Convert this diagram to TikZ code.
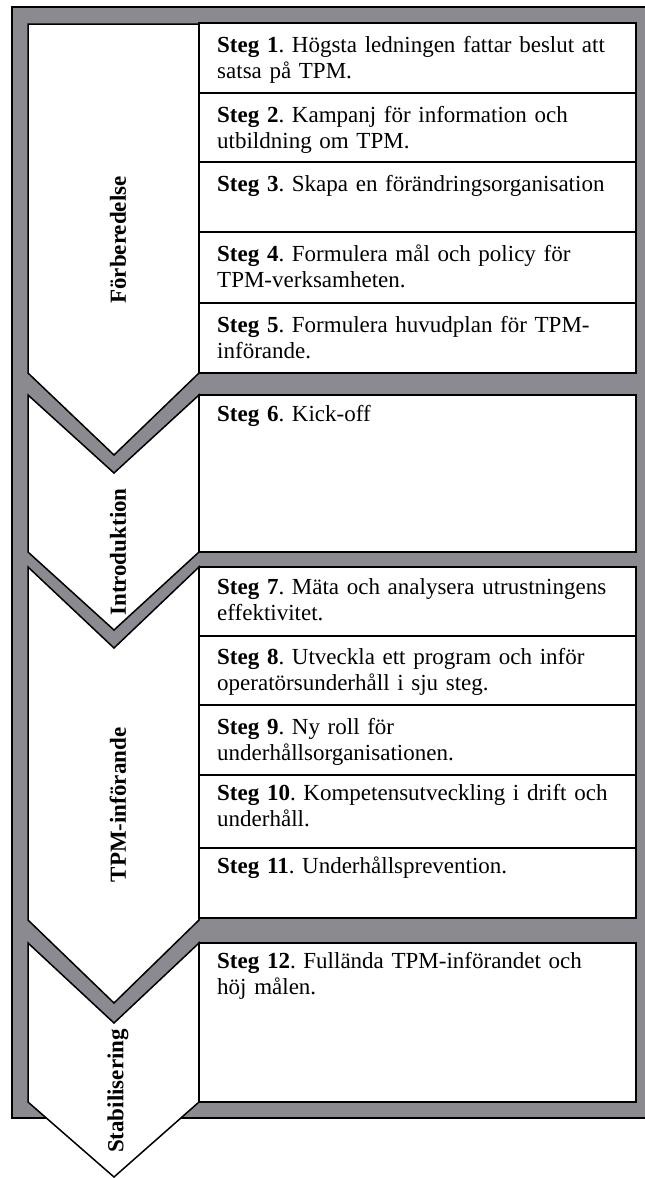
\documentclass[tikz,border=0pt]{standalone}
\usepackage{fontspec}
\setmainfont{Liberation Serif}
\frenchspacing
\definecolor{framegray}{RGB}{138,138,144}
\tikzset{
  phase/.style={draw=black, fill=white, line width=1.5pt, line join=miter},
  stepbox/.style={draw=black, fill=white, line width=1.5pt},
  steptext/.style={anchor=base west, inner sep=0pt, text width=415pt, align=left,
    font=\fontsize{23}{26}\selectfont},
  phaselabel/.style={rotate=90, inner sep=0pt, font=\fontsize{23}{26}\selectfont\bfseries}
}
\begin{document}
\begin{tikzpicture}[x=1pt, y=-1pt]
  \useasboundingbox (0,0) rectangle (645,1178);
  \clip (0,0) rectangle (645,1178);
  \fill[white] (0,0) rectangle (645,1178);

  % grey frame
  \draw[fill=framegray, line width=2.5pt] (12,7) rectangle (660,1118);

  % phase chevrons
  \draw[phase] (28,24) -- (199,24) -- (199,373) -- (114,455) -- (28,373) -- cycle;
  \draw[phase] (28,395) -- (114,473) -- (199,395) -- (199,552) -- (114,630) -- (28,552) -- cycle;
  \draw[phase] (28,567) -- (114,648) -- (199,567) -- (199,920) -- (114,1003) -- (28,920) -- cycle;
  \draw[phase] (28,943) -- (114,1023) -- (199,943) -- (199,1102) -- (114,1177) -- (28,1102) -- cycle;

  % step boxes
  \foreach \t/\b in {23/93, 93/162, 162/232, 232/303, 303/373,
                     395/552,
                     567/636, 636/705, 705/775, 775/848, 848/918,
                     943/1102}
    \draw[stepbox] (199,\t) rectangle (636,\b);

  % step texts
  \node[steptext] (s1) at (217,52) {\textbf{Steg 1}. Högsta ledningen fattar beslut att\\satsa på TPM.};
  \node[steptext] (s2) at (217,122) {\textbf{Steg 2}. Kampanj för information och\\utbildning om TPM.};
  \node[steptext] (s3) at (217,191) {\textbf{Steg 3}. Skapa en förändringsorganisation};
  \node[steptext] (s4) at (217,261) {\textbf{Steg 4}. Formulera mål och policy för\\TPM-verksamheten.};
  \node[steptext] (s5) at (217,332) {\textbf{Steg 5}. Formulera huvudplan för TPM-\\införande.};
  \node[steptext] (s6) at (217,421) {\textbf{Steg 6}. Kick-off};
  \node[steptext] (s7) at (217,594) {\textbf{Steg 7}. Mäta och analysera utrustningens\\effektivitet.};
  \node[steptext] (s8) at (217,664) {\textbf{Steg 8}. Utveckla ett program och inför\\operatörsunderhåll i sju steg.};
  \node[steptext] (s9) at (217,734) {\textbf{Steg 9}. Ny roll för\\underhållsorganisationen.};
  \node[steptext] (s10) at (217,800) {\textbf{Steg 10}. Kompetensutveckling i drift och\\underhåll.};
  \node[steptext] (s11) at (217,873) {\textbf{Steg 11}. Underhållsprevention.};
  \node[steptext] (s12) at (217,968) {\textbf{Steg 12}. Fullända TPM-införandet och\\höj målen.};

  % phase labels
  \node[phaselabel] (p1) at (118,240) {Förberedelse};
  \node[phaselabel] (p2) at (118,552) {Introduktion};
  \node[phaselabel] (p3) at (118,805) {TPM-införande};
  \node[phaselabel] (p4) at (118,1091) {Stabilisering};
\end{tikzpicture}
\end{document}
